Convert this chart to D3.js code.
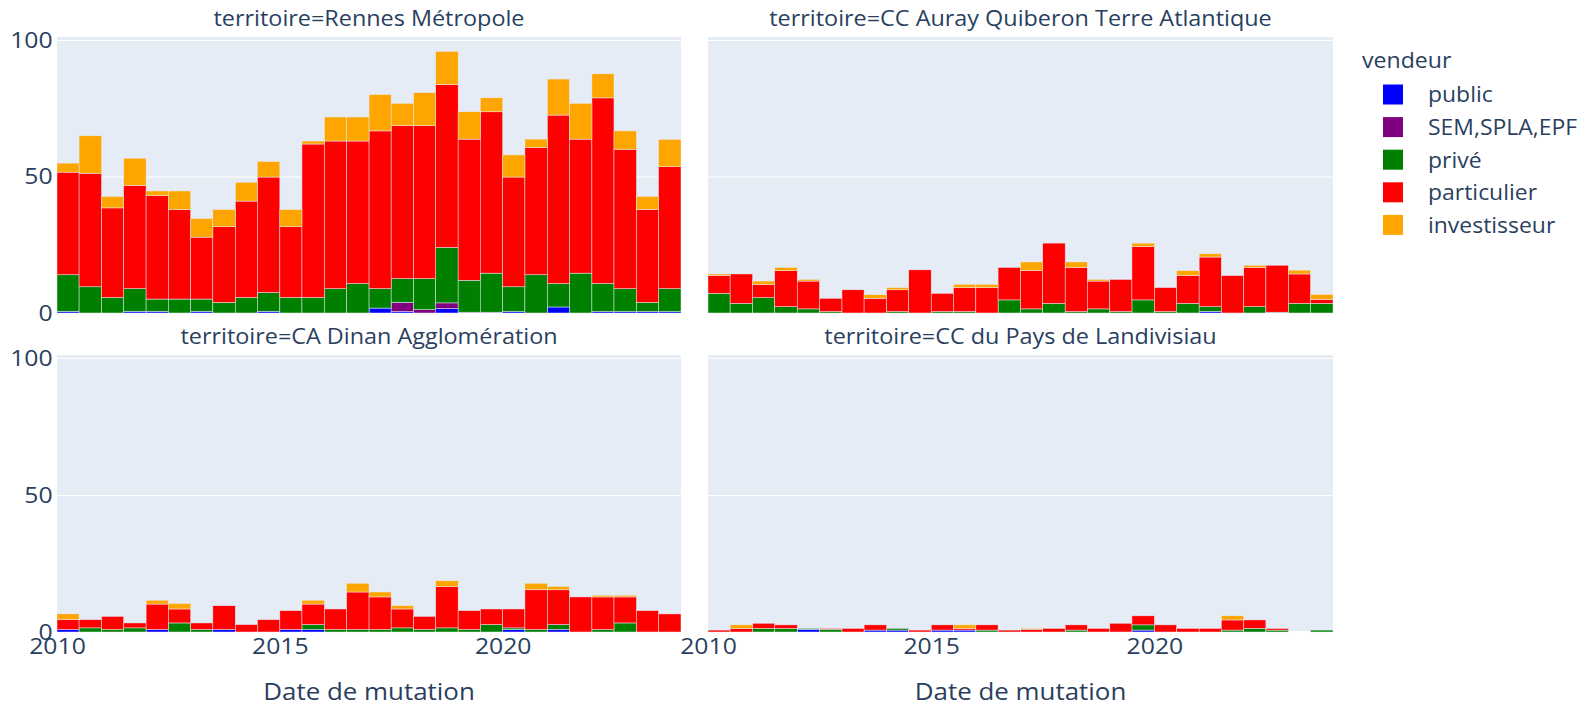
<!DOCTYPE html>
<html><head><meta charset="utf-8">
<script src="https://cdn.jsdelivr.net/npm/d3@7"></script>
<style>
body{margin:0;background:#fff}
svg{display:block}
text{font-family:"Open Sans",sans-serif;fill:#2a3f5f}
</style>
</head><body>
<svg id="c" width="1587" height="707"></svg>
<script>
// ---------------- DATA ----------------
const territories = ["Rennes Métropole", "CC Auray Quiberon Terre Atlantique", "CA Dinan Agglomération", "CC du Pays de Landivisiau"];
const vendeurs = ["public", "SEM,SPLA,EPF", "privé", "particulier", "investisseur"];
const vendeurColors = ["#0000ff", "#800080", "#008000", "#ff0000", "#ffa500"];
const binEdges = ["2010-01-01","2010-07-01","2011-01-01","2011-07-01","2012-01-01","2012-07-01","2013-01-01","2013-07-01",
  "2014-01-01","2014-07-01","2015-01-01","2015-07-01","2016-01-01","2016-07-01","2017-01-01","2017-07-01",
  "2018-01-01","2018-07-01","2019-01-01","2019-07-01","2020-01-01","2020-07-01","2021-01-01","2021-07-01",
  "2022-01-01","2022-07-01","2023-01-01","2023-07-01","2024-01-01"];
const xTickLabels = ["2010", "2015", "2020"];
const yTickValues = [0, 50, 100];

// Rennes Métropole
const rennesPublic = [0.6,0,0,0.6,0.6,0,0.6,0,0,0.6,0,0,0,0,1.8,0.5,0,1.6,0,0,0.5,0,2.2,0,0.5,0.5,0.5,0.5];
const rennesSem = [0,0,0,0,0,0,0,0,0,0,0,0,0,0,0,3.4,1.2,2.1,0.3,0.3,0,0,0,0,0,0,0,0];
const rennesPrive = [13.4,9.6,5.7,8.3,4.5,5.1,4.5,3.9,5.7,6.9,5.7,5.7,8.9,10.8,7.1,8.7,11.4,20.3,11.7,14.3,9.1,14.0,8.6,14.6,10.3,8.4,3.4,8.4];
const rennesParticulier = [37.6,41.6,32.8,37.8,37.9,32.8,22.7,27.7,35.3,42.3,25.9,56.2,54.1,52.2,57.8,56.0,56.0,59.7,51.7,59.1,40.2,46.6,61.7,49.1,68.0,51.1,34.0,44.7];
const rennesInvestisseur = [3.3,13.7,4.2,10.0,1.7,6.8,6.8,6.3,6.9,5.7,6.3,1.1,8.8,8.8,13.3,8.2,12.1,12.1,10.0,5.1,8.1,3.1,13.2,13.1,8.8,6.7,4.8,10.0];

// CC Auray Quiberon Terre Atlantique
const aurayPublic = [0,0,0,0,0,0,0,0,0,0,0,0,0,0,0,0,0,0,0,0,0,0,0.6,0,0,0,0,0];
const auraySem = [0,0,0,0,0,0,0,0,0,0,0,0,0,0,0,0,0,0,0,0,0,0,0,0,0,0,0,0];
const aurayPrive = [7.2,3.5,5.6,2.3,1.5,0.5,0,0,0.5,0,0.5,0.5,0,4.8,1.5,3.5,0.5,1.5,0.5,4.8,0.5,3.5,1.7,0,2.3,0.3,3.5,3.5];
const aurayParticulier = [6.5,10.8,4.9,13.2,10.2,4.9,8.5,5.4,8.0,15.8,6.7,8.8,9.3,11.9,14.0,22.1,16.2,10.2,11.8,19.5,8.8,10.2,18.2,13.7,14.4,17.2,10.8,1.5];
const aurayInvestisseur = [0.6,0,1.2,1.2,0.6,0,0,1.3,0.8,0,0,1.2,1.2,0,3.2,0,2.0,0.6,0,1.3,0,1.8,1.2,0,0.8,0,1.4,1.8];

// CA Dinan Agglomération
const dinanPublic = [0.9,0,0,0,0.9,0,0,0.9,0,0,0.9,0.9,0,0,0,0,0,0,0,0,0.9,0,0.9,0,0,0,0,0];
const dinanSem = [0,0,0,0,0,0,0,0,0,0,0,0,0,0,0,0,0,0,0,0,0,0,0,0,0,0,0,0];
const dinanPrive = [0,1.5,0.9,1.5,0,3.3,0.9,0,0,0,0,1.8,0.9,0.9,0.9,1.5,0.9,1.5,0.9,2.7,0.6,0.9,1.8,0,0.9,3.3,0,0];
const dinanParticulier = [3.6,3.0,4.8,1.8,9.3,5.1,2.4,8.7,2.7,4.5,6.9,7.5,7.5,13.7,11.9,6.9,4.8,15.1,6.9,5.7,6.9,14.5,12.7,12.8,11.9,9.5,7.8,6.6];
const dinanInvestisseur = [2.1,0,0,0,1.4,2.0,0,0,0,0,0,1.4,0,3.2,1.8,1.2,0,2.1,0,0,0,2.4,1.2,0,0.6,0.6,0,0];

// CC du Pays de Landivisiau
const landiPublic = [0,0,0,0,1.0,0,0,0.7,0.7,0,0.7,0.7,0,0,0,0,0,0,0,0.7,0,0,0,0,0,0,0,0];
const landiSem = [0,0,0,0,0,0,0,0,0,0,0,0,0,0,0,0,0,0,0,0,0,0,0,0,0,0,0,0];
const landiPrive = [0,0,1.3,1.3,0.3,1.0,0,0,0.6,0,0,0,0.7,0,0,0,0.7,0,0,1.9,0,0,0,0.7,1.3,0.7,0,0.7];
const landiParticulier = [0.7,1.3,1.9,1.3,0,0.3,1.3,1.9,0,0.7,1.9,0.6,1.9,0.7,1.0,1.3,1.9,1.3,3.2,3.3,2.6,1.3,1.3,3.7,3.1,0.6,0,0];
const landiInvestisseur = [0,1.3,0,0,0,0,0,0,0,0,0,1.3,0,0,0.3,0,0,0,0,0,0,0,0,1.5,0,0,0,0];

// ---------------- LAYOUT ----------------
const FS_TICK = 22.5, FS_TITLE = 22.5, FS_AXTITLE = 24, FS_LEG = 22.5, FS_LEGTITLE = 22;
const SX_TITLE = 1.04, SX_AX = 1.08, SX_TICK = 1.10, SX_LEG = 1.02;
const panelLayout = [
  {x0: 57,  x1: 681,  y0: 37,  y1: 313, left: true,  bottom: false},
  {x0: 708, x1: 1333, y0: 37,  y1: 313, left: false, bottom: false},
  {x0: 57,  x1: 681,  y0: 355, y1: 632, left: true,  bottom: true},
  {x0: 708, x1: 1333, y0: 355, y1: 632, left: false, bottom: true}
];
const seriesByPanel = [
  [rennesPublic, rennesSem, rennesPrive, rennesParticulier, rennesInvestisseur],
  [aurayPublic, auraySem, aurayPrive, aurayParticulier, aurayInvestisseur],
  [dinanPublic, dinanSem, dinanPrive, dinanParticulier, dinanInvestisseur],
  [landiPublic, landiSem, landiPrive, landiParticulier, landiInvestisseur]
];

const parse = d3.timeParse("%Y-%m-%d");
const edges = binEdges.map(parse);
const svg = d3.select("#c");
const color = d3.scaleOrdinal().domain(vendeurs).range(vendeurColors);

function label(parent, x, y, txt, size, anchor, sx) {
  return parent.append("text")
    .attr("transform", `translate(${x},${y}) scale(${sx},1)`)
    .attr("dy", "0.35em").attr("text-anchor", anchor)
    .style("font-size", size + "px").text(txt);
}

panelLayout.forEach((p, pi) => {
  const x = d3.scaleTime().domain([edges[0], edges[edges.length - 1]]).range([p.x0, p.x1]);
  const y = d3.scaleLinear().domain([0, 101.1]).range([p.y1, p.y0]);
  const g = svg.append("g");

  g.append("rect").attr("x", p.x0).attr("y", p.y0).attr("width", p.x1 - p.x0).attr("height", p.y1 - p.y0).attr("fill", "#E5ECF6");

  // grid
  const grid = g.append("g").attr("transform", `translate(${p.x0},0)`)
    .call(d3.axisLeft(y).tickValues(yTickValues.filter(v => v > 0)).tickSize(-(p.x1 - p.x0)).tickFormat(""));
  grid.select(".domain").remove();
  grid.selectAll("line").attr("stroke", "#fff").attr("stroke-width", 1);
  g.append("line").attr("x1", p.x0).attr("x2", p.x1).attr("y1", y(0)).attr("y2", y(0)).attr("stroke", "#fff").attr("stroke-width", 2);

  // stacked bars
  const rows = edges.slice(0, -1).map((d, i) => {
    const r = {start: d, end: edges[i + 1]};
    vendeurs.forEach((v, k) => r[v] = seriesByPanel[pi][k][i]);
    return r;
  });
  const stacked = d3.stack().keys(vendeurs)(rows);
  g.selectAll("g.layer").data(stacked).join("g").attr("class", "layer")
    .attr("fill", d => color(d.key))
    .selectAll("rect").data(d => d.filter(s => s[1] - s[0] > 0)).join("rect")
    .attr("x", d => x(d.data.start))
    .attr("width", d => x(d.data.end) - x(d.data.start))
    .attr("y", d => y(d[1]))
    .attr("height", d => y(d[0]) - y(d[1]))
    .attr("stroke", "#E5ECF6").attr("stroke-width", 0.5);

  // subplot title
  label(g, (p.x0 + p.x1) / 2, p.y0 - 19, "territoire=" + territories[pi], FS_TITLE, "middle", SX_TITLE);

  if (p.left) {
    const ya = g.append("g").attr("transform", `translate(${p.x0},0)`)
      .call(d3.axisLeft(y).tickValues(yTickValues).tickSize(0).tickPadding(4).tickFormat(d3.format("d")));
    ya.select(".domain").remove();
    ya.selectAll("text").style("font-size", FS_TICK + "px").attr("fill", "#2a3f5f")
      .attr("transform", `scale(${SX_TICK},1)`);
  }
  if (p.bottom) {
    const xa = g.append("g").attr("transform", `translate(0,${p.y1})`)
      .call(d3.axisBottom(x).tickValues(xTickLabels.map(s => parse(s + "-01-01"))).tickSize(0).tickPadding(6).tickFormat(d3.timeFormat("%Y")));
    xa.select(".domain").remove();
    xa.selectAll("text").style("font-size", FS_TICK + "px").attr("fill", "#2a3f5f")
      .attr("transform", `scale(${SX_TICK},1)`);
    label(g, (p.x0 + p.x1) / 2, 692, "Date de mutation", FS_AXTITLE, "middle", SX_AX);
  }
});

// legend
const leg = svg.append("g");
label(leg, 1362, 60, "vendeur", FS_LEGTITLE, "start", 1.05);
vendeurs.forEach((v, i) => {
  const cy = 94.5 + i * 32.6;
  leg.append("rect").attr("x", 1383).attr("y", cy - 10).attr("width", 20).attr("height", 20).attr("fill", color(v));
  label(leg, 1428, cy, v, FS_LEG, "start", SX_LEG);
});
</script>
</body></html>
